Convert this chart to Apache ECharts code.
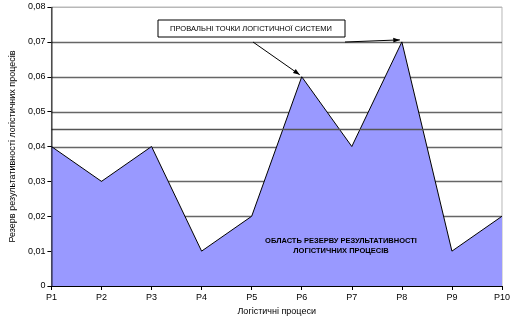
<!DOCTYPE html>
<html>
<head>
<meta charset="utf-8">
<script src="https://cdn.jsdelivr.net/npm/echarts@6/dist/echarts.min.js"></script>
<style>
  html, body { margin: 0; padding: 0; background: #fff; }
  #chart { width: 513px; height: 326px; }
</style>
</head>
<body>
<div id="chart"></div>
<script>
// Logistic processes and their performance reserve
const processes = ['P1', 'P2', 'P3', 'P4', 'P5', 'P6', 'P7', 'P8', 'P9', 'P10'];
const reserve = [0.04, 0.03, 0.04, 0.01, 0.02, 0.06, 0.04, 0.07, 0.01, 0.02];
const levelLine = 0.045;
const failurePoints = ['P6', 'P8'];
const yTicks = { min: 0, max: 0.08, interval: 0.01 };

const font = 'Liberation Sans, Arial, sans-serif';
const chart = echarts.init(document.getElementById('chart'));

chart.setOption({
  animation: false,
  grid: {
    left: 35, right: 8, top: 7, bottom: 40,
    show: true, borderColor: '#b8b8b8', borderWidth: 1, backgroundColor: 'transparent'
  },
  xAxis: {
    type: 'category',
    data: processes,
    boundaryGap: false,
    z: 4,
    name: 'Логістичні процеси',
    nameLocation: 'middle',
    nameGap: 18,
    nameTextStyle: { fontFamily: font, fontSize: 9, color: '#000' },
    axisLine: { lineStyle: { color: '#000', width: 1 } },
    axisTick: { show: true, alignWithLabel: true, length: 4, lineStyle: { color: '#000' } },
    axisLabel: { fontFamily: font, fontSize: 9, color: '#000', margin: 7 },
    splitLine: { show: false }
  },
  yAxis: {
    type: 'value',
    min: yTicks.min, max: yTicks.max, interval: yTicks.interval,
    name: 'Резерв результативності логістичних процесів',
    nameLocation: 'middle',
    nameGap: 26,
    nameTextStyle: { fontFamily: font, fontSize: 9, color: '#000' },
    axisLine: { show: false },
    axisTick: { show: true, length: 4, lineStyle: { color: '#000' } },
    axisLabel: {
      fontFamily: font, fontSize: 9, color: '#000', margin: 6,
      formatter: v => v === 0 ? '0' : v.toFixed(2).replace('.', ',')
    },
    splitLine: { show: false }
  },
  series: [{
    type: 'line',
    data: reserve,
    symbol: 'none',
    z: 5,
    lineStyle: { color: '#000', width: 1 },
    areaStyle: { color: '#9999ff', opacity: 1 }
  }]
});

// Arrows from the caption box to the failure points on the curve
function arrow(from, to) {
  const ang = Math.atan2(to[1] - from[1], to[0] - from[0]);
  const len = 7, spread = 0.35;
  const a = [to[0] - len * Math.cos(ang - spread), to[1] - len * Math.sin(ang - spread)];
  const b = [to[0] - len * Math.cos(ang + spread), to[1] - len * Math.sin(ang + spread)];
  return [{
    type: 'line', shape: { x1: from[0], y1: from[1], x2: to[0], y2: to[1] },
    style: { stroke: '#000', lineWidth: 1 }, z: 20
  }, {
    type: 'polygon', shape: { points: [to, a, b] }, style: { fill: '#000' }, z: 20
  }];
}

const x0 = chart.convertToPixel({ xAxisIndex: 0 }, processes[0]);
const x1 = chart.convertToPixel({ xAxisIndex: 0 }, processes[processes.length - 1]);
const yPix = v => chart.convertToPixel({ yAxisIndex: 0 }, v);

const elements = [];
// horizontal grid lines, beneath the filled area
for (let v = yTicks.min + yTicks.interval; v <= yTicks.max + 1e-9; v += yTicks.interval) {
  const y = Math.round(yPix(v)) + 0.5;
  const top = v >= yTicks.max - 1e-9;
  elements.push({
    type: 'line', shape: { x1: x0, y1: y, x2: x1, y2: y },
    style: { stroke: top ? '#b8b8b8' : '#666', lineWidth: top ? 1 : 1.5 }, z: 1
  });
}
// reference level drawn over the area
const yl = Math.round(yPix(levelLine)) + 0.5;
elements.push({
  type: 'line', shape: { x1: x0, y1: yl, x2: x1, y2: yl },
  style: { stroke: '#555', lineWidth: 1.5 }, z: 12
});
// vertical axis line
elements.push({
  type: 'line', shape: { x1: x0 + 0.5, y1: yPix(yTicks.max), x2: x0 + 0.5, y2: yPix(yTicks.min) },
  style: { stroke: '#000', lineWidth: 1 }, z: 15
});
elements.push({
  type: 'rect',
  shape: { x: 158, y: 20, width: 187, height: 17 },
  style: { fill: '#fff', stroke: '#000', lineWidth: 1 }, z: 20
}, {
  type: 'text',
  style: {
    x: 251, y: 29, text: 'ПРОВАЛЬНІ ТОЧКИ ЛОГІСТИЧНОЇ СИСТЕМИ',
    font: '7.5px ' + font, fill: '#000', align: 'center', verticalAlign: 'middle'
  }, z: 21
}, {
  type: 'text',
  style: {
    x: 341, y: 236, text: 'ОБЛАСТЬ РЕЗЕРВУ РЕЗУЛЬТАТИВНОСТІ\nЛОГІСТИЧНИХ ПРОЦЕСІВ',
    font: 'bold 7.5px ' + font, fill: '#000', align: 'center', lineHeight: 10
  }, z: 21
});
const starts = [[253, 42], [345, 42]];
failurePoints.forEach((p, i) => {
  const idx = processes.indexOf(p);
  const pt = chart.convertToPixel({ seriesIndex: 0 }, [idx, reserve[idx]]);
  elements.push(...arrow(starts[i], [pt[0] - 2, pt[1] - 2]));
});
chart.setOption({ graphic: { elements: elements } });
</script>
</body>
</html>
